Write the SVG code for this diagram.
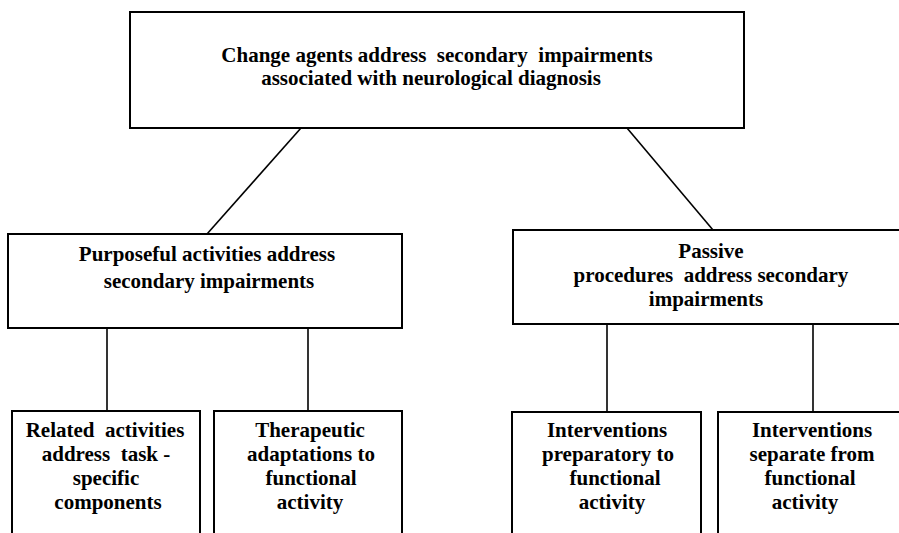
<svg xmlns="http://www.w3.org/2000/svg" width="899" height="533" viewBox="0 0 899 533">
<style>
.box{fill:#fff;stroke:#000;stroke-width:2}
.ln{stroke:#000;stroke-width:1.6;fill:none}
text{font-family:"Liberation Serif","Times New Roman",serif;font-weight:bold;font-size:21px;fill:#000;text-anchor:middle;white-space:pre}
</style>
<rect width="899" height="533" fill="#fff"/>
<g id="connectors">
<line class="ln" x1="301" y1="128" x2="207" y2="234"/>
<line class="ln" x1="627" y1="128" x2="713" y2="230"/>
<line class="ln" x1="107" y1="328" x2="107" y2="411"/>
<line class="ln" x1="308" y1="328" x2="308" y2="411"/>
<line class="ln" x1="607" y1="324" x2="607" y2="412"/>
<line class="ln" x1="813" y1="324" x2="813" y2="412"/>
</g>
<g id="root">
<rect class="box" x="130" y="12" width="614" height="116"/>
<text x="437" y="62">Change agents address  secondary  impairments</text>
<text x="431" y="85">associated with neurological diagnosis</text>
</g>
<g id="purposeful">
<rect class="box" x="8" y="234" width="394" height="94"/>
<text x="207" y="261">Purposeful activities address</text>
<text x="209" y="288">secondary impairments</text>
</g>
<g id="passive">
<rect class="box" x="513" y="230" width="400" height="94"/>
<text x="711" y="258">Passive</text>
<text x="711" y="282">procedures  address secondary</text>
<text x="706" y="306">impairments</text>
</g>
<g id="related">
<rect class="box" x="12" y="411" width="188" height="140"/>
<text x="105" y="437">Related  activities</text>
<text x="106" y="461">address  task -</text>
<text x="106" y="485">specific</text>
<text x="108" y="509">components</text>
</g>
<g id="therapeutic">
<rect class="box" x="214" y="411" width="188" height="140"/>
<text x="310" y="437">Therapeutic</text>
<text x="311" y="461">adaptations to</text>
<text x="311" y="485">functional</text>
<text x="310" y="509">activity</text>
</g>
<g id="preparatory">
<rect class="box" x="512" y="412" width="189" height="140"/>
<text x="607" y="437">Interventions</text>
<text x="608" y="461">preparatory to</text>
<text x="615" y="485">functional</text>
<text x="612" y="509">activity</text>
</g>
<g id="separate">
<rect class="box" x="718" y="412" width="200" height="140"/>
<text x="812" y="437">Interventions</text>
<text x="812" y="461">separate from</text>
<text x="810" y="485">functional</text>
<text x="805" y="509">activity</text>
</g>
</svg>
